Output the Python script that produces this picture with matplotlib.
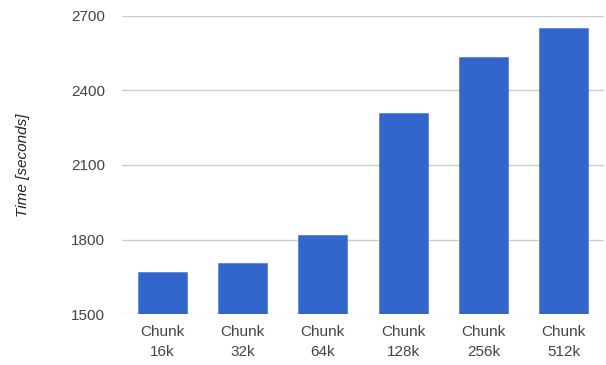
import matplotlib
matplotlib.use("Agg")
import matplotlib.pyplot as plt

categories = ["Chunk\n16k", "Chunk\n32k", "Chunk\n64k", "Chunk\n128k", "Chunk\n256k", "Chunk\n512k"]
values = [1670, 1704, 1818, 2311, 2536, 2653]
yticks = [1500, 1800, 2100, 2400, 2700]

plt.rcParams['font.family'] = ['Liberation Sans', 'DejaVu Sans']

fig = plt.figure(figsize=(6.06, 3.65), dpi=100)
ax = fig.add_axes([0.2013, 0.1397, 0.7954, 0.8165])

x = list(range(len(categories)))
ax.bar(x, values, width=0.61, color="#3366CC", edgecolor="#5a85d9", linewidth=0.6, zorder=3)
ax.set_ylim(1500, 2700)
ax.set_xlim(-0.5, len(categories) - 0.5)
ax.set_yticks(yticks)
ax.set_yticklabels([str(v) for v in yticks])
ax.set_xticks(x)
ax.set_xticklabels(categories, linespacing=1.55)
ax.grid(axis="y", color="#cccccc", linewidth=1, zorder=0)
for s in ax.spines.values():
    s.set_visible(False)
ax.tick_params(axis="both", length=0, labelsize=11, colors="#444444")
ax.tick_params(axis="y", pad=12)
ax.tick_params(axis="x", pad=8)
ax.set_ylabel("Time [seconds]", fontstyle="italic", fontsize=11, color="#222222")
ax.yaxis.set_label_coords(-0.19, 0.5)

fig.savefig("out.png", dpi=100)
